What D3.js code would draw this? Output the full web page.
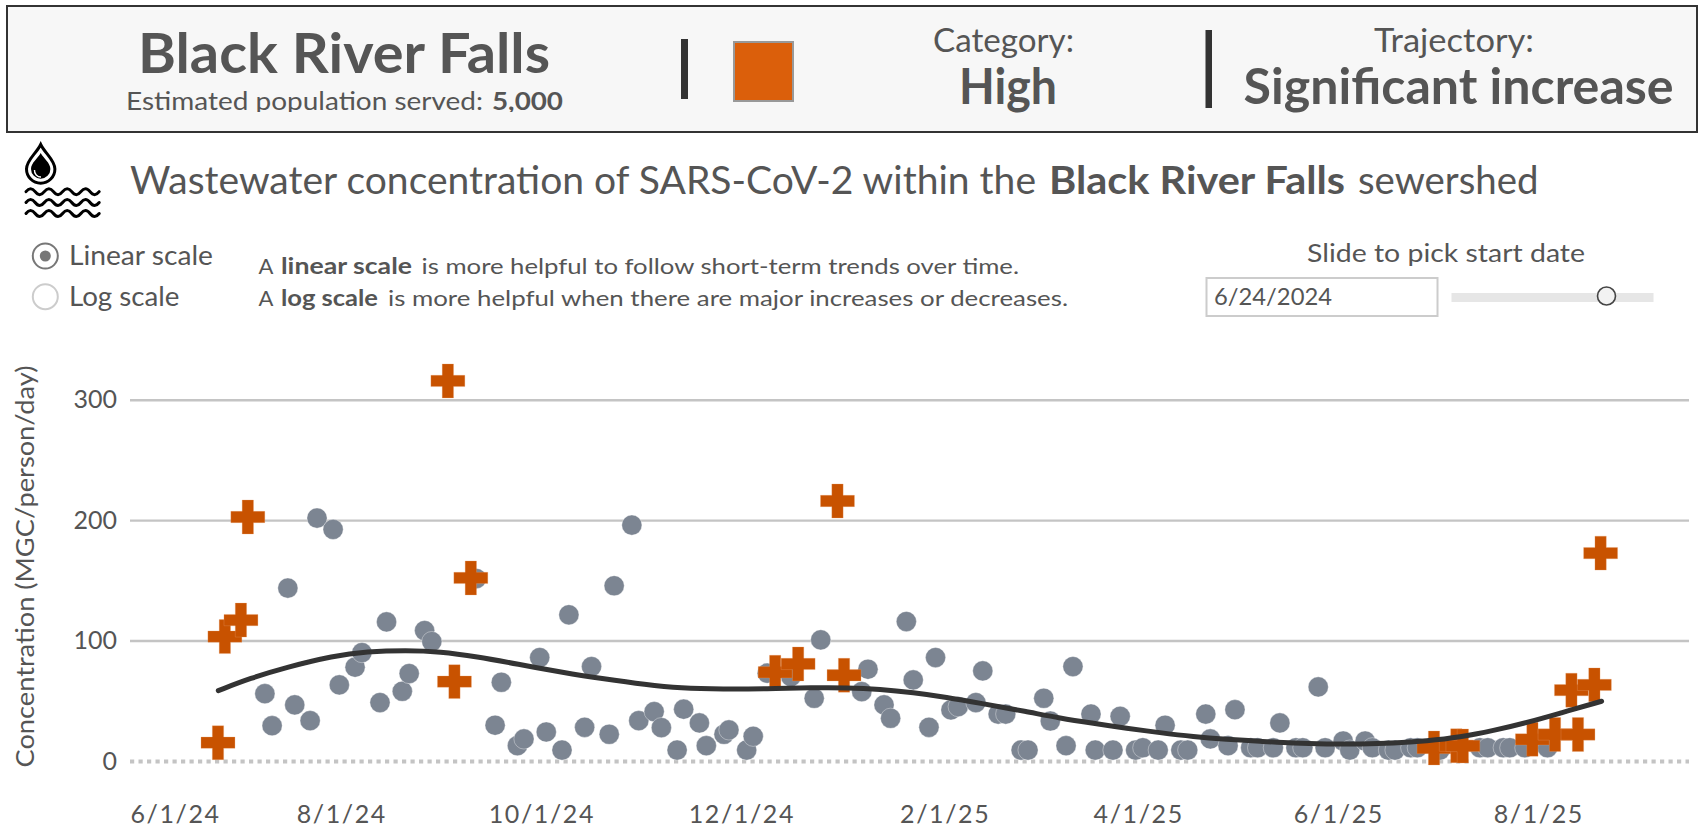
<!DOCTYPE html>
<html><head><meta charset="utf-8"><title>Wastewater chart</title>
<style>html,body{margin:0;padding:0;background:#fff;overflow:hidden}svg{display:block}text{font-family:Lato,"Noto Sans",sans-serif}</style>
<script src="https://cdn.jsdelivr.net/npm/d3@7"></script></head><body><div id="chart"></div>
<script>
const sewershed = "Black River Falls";
const startDate = "2024-06-01";
const xTickLabels = ["2024-06-01","2024-08-01","2024-10-01","2024-12-01","2025-02-01","2025-04-01","2025-06-01","2025-08-01"];
const yTicks = [0,100,200,300];
// days after 6/1/24 and concentration (MGC/person/day)
const normalDays = [37.7,39.9,44.7,46.8,51.5,53.6,58.5,60.4,65.2,67.3,72.8,74.8,79.6,81.7,86.4,88.6,102.2,107.9,109.8,114.7,116.7,121.5,123.5,128.3,130.4,135.2,137.3,142.7,144.2,149.6,151.7,156.4,158.6,163.4,165.4,170.2,172.3,177.7,179.2,184.6,186.6,190.9,198.1,205.2,207.2,219.7,221.6,226.5,228.5,233.3,235.4,240.2,242.2,246.9,249.1,254.5,256.6,261.3,263.6,268.3,270.4,275.2,277.2,282,284.1,289.6,290.9,296.3,298.5,303.2,305.4,310.1,312.2,317,319.1,324.6,326,331.4,333.5,338.3,340.4,345.2,347.2,352.1,354.2,358.9,361,366.5,368.5,373.2,375.4,380.3,382.3,387.1,389.1,396,408.2,410.6,415.3,417.3,421.9,428.8];
const normalValues = [55.9,29.3,143.6,46.6,33.5,201.7,192.3,63.2,77.9,90,48.5,115.5,57.9,72.6,108.3,99.2,151.5,29.7,65.4,12.7,18.3,85.9,24.1,9.1,121.4,28,78.4,22.2,145.5,195.9,33.5,41,27.7,9.1,43,31.6,12.7,22.2,25.8,9.1,20.5,72.9,70,52.1,100.6,57.6,76.2,46.6,35.5,115.8,67.3,28,85.9,42.4,45.1,48.5,74.8,39,39,9.1,9.1,52.1,33.2,12.7,78.4,39,9.1,9.1,37.1,9.1,11,9.1,29.7,9.1,9.1,39,18.3,12.7,42.6,11,11,11,31.6,11,11,61.5,11,16.6,9.1,16.6,11,9.1,9.1,11,11,9.1,11,11,11,11,11,11];
const flaggedDays = [23.4,25.5,30.4,32.5,93.5,95.5,100.5,193.3,200.3,212.3,214.3,394.2,401,403,424.2,431.1,436.1,438.1,443.1,445];
const flaggedValues = [15.2,103.3,117,202.6,315.6,65.9,152,73.7,80.6,215.9,71.2,10.8,12.7,12.5,18,22,58.8,22,63.2,172.6];
const trendDays = [23.5,33.2,44.4,58.6,68.7,80.9,91.1,102.3,114.5,129.7,139.9,154.1,164.3,177.5,190.7,204.8,215.1,225.3,235.4,245.6,255.8,270,280.2,290.3,300.5,310.6,320.8,331,341.1,351.3,361.5,371.6,381.8,392,402.1,412.3,422.5,432.6,445.3];
const trendValues = [58.4,68.7,77.9,87.3,90.9,92,90.9,86.7,80.6,72.9,68.7,63.2,60.4,59.6,59.9,60.9,60.9,59.6,56.8,52.9,48,41,35.5,31.3,27.2,23.5,20.2,18,16.4,14.7,14.1,14.1,14.7,16.6,19.7,25.2,31.8,39.7,49.6];

const W=1706,H=837, TXT="#555555";
const svg=d3.select("#chart").append("svg").attr("width",W).attr("height",H);
const origin=new Date(startDate+"T00:00:00Z");
const dateOf=d=>new Date(+origin+d*864e5);
const parse=s=>new Date(s+"T00:00:00Z");
const x=d3.scaleUtc().domain([parse("2024-06-01"),parse("2025-08-01")]).range([141.25,1538.3]);
const y=d3.scaleLinear().domain([0,300]).range([761,399.7]);
const plotL=130, plotR=1689;

function label(s,px,py,size,opt={}){
  const t=svg.append("text").attr("x",px).attr("y",py).attr("font-size",size).attr("fill",opt.fill||TXT)
    .attr("font-weight",opt.bold?700:400).text(s);
  if(opt.len) t.attr("textLength",opt.len).attr("lengthAdjust","spacingAndGlyphs");
  return t;
}
// header
svg.append("rect").attr("x",7).attr("y",6).attr("width",1690).attr("height",126).attr("fill","#f7f7f7").attr("stroke","#333").attr("stroke-width",2);
svg.append("clipPath").attr("id","hdrClip").attr("clipPathUnits","userSpaceOnUse").append("rect").attr("x",100).attr("y",80).attr("width",500).attr("height",32);
const popG=svg.append("g").attr("clip-path","url(#hdrClip)");
label(sewershed,138,72.5,56,{bold:1,len:412});
popG.node().appendChild(label("Estimated population served:",126,110,25,{len:357}).node());
popG.node().appendChild(label("5,000",492,110,25,{bold:1,len:71}).node());
svg.append("rect").attr("x",681).attr("y",39).attr("width",7).attr("height",60).attr("fill","#333");
svg.append("rect").attr("x",734).attr("y",42).attr("width",59).attr("height",59).attr("fill","#DB5F0B").attr("stroke","#999").attr("stroke-width",2);
label("Category:",933,52,33,{len:141});
label("High",959,104,49,{bold:1,len:98});
svg.append("rect").attr("x",1205.5).attr("y",30).attr("width",6.5).attr("height",78).attr("fill","#333");
label("Trajectory:",1374,52,33,{len:160});
label("Significant increase",1243.6,104,49,{bold:1,len:430});

// icon
const icon=svg.append("g");
icon.append("path").attr("d","M40.7 144.5 C36 154 26.5 160 26.5 169 A14.2 14.2 0 0 0 54.9 169 C54.9 160 45.4 154 40.7 144.5Z").attr("fill","#fff").attr("stroke","#000").attr("stroke-width",3);
icon.append("path").attr("d","M40.7 153 C38 158 31 163 31 169 A9.7 9.7 0 0 0 50.4 169 C50.4 163 43.4 158 40.7 153Z").attr("fill","#000");
icon.append("path").attr("d","M34.5 170 A6.5 6.5 0 0 0 41 177").attr("fill","none").attr("stroke","#fff").attr("stroke-width",1.4);
[191.7,202.5,213.5].forEach(wy=>{
  let d=`M26 ${wy}`;
  for(let i=0;i<4;i++){const a=26+i*18.3;d+=` Q${a+4.6} ${wy-6} ${a+9.15} ${wy} T${a+18.3} ${wy}`;}
  icon.append("path").attr("d",d).attr("fill","none").attr("stroke","#000").attr("stroke-width",3).attr("stroke-linecap","round");
});
label("Wastewater concentration of SARS-CoV-2 within the",130,194,39,{len:906});
label(sewershed,1049,194,39,{bold:1,len:296});
label("sewershed",1358,194,39,{len:180.5});

// controls
svg.append("circle").attr("cx",45.3).attr("cy",256).attr("r",12.5).attr("fill","#fff").attr("stroke","#777").attr("stroke-width",2);
svg.append("circle").attr("cx",45.3).attr("cy",256).attr("r",5.5).attr("fill","#777");
svg.append("circle").attr("cx",45.3).attr("cy",296.7).attr("r",12.5).attr("fill","#fff").attr("stroke","#ccc").attr("stroke-width",2);
label("Linear scale",69,265,26,{len:144});
label("Log scale",69,305.7,26,{len:110.5});
label("A",258.4,274,22);
label("linear scale",281,274,22,{bold:1,len:131});
label("is more helpful to follow short-term trends over time.",421.6,274,22,{len:597.4});
label("A",258.4,306,22);
label("log scale",281,306,22,{bold:1,len:97});
label("is more helpful when there are major increases or decreases.",388,306,22,{len:680});
label("Slide to pick start date",1307,261.7,25,{len:278});
svg.append("rect").attr("x",1206.5).attr("y",278).attr("width",231).attr("height",38).attr("fill","#fff").attr("stroke","#ccc").attr("stroke-width",2);
label("6/24/2024",1214,305,24,{len:118});
svg.append("rect").attr("x",1451.5).attr("y",293).attr("width",202).attr("height",9).attr("fill","#e6e6e6");
svg.append("circle").attr("cx",1606.5).attr("cy",296).attr("r",9).attr("fill","#f2f2f2").attr("stroke","#444").attr("stroke-width",1.6);

// axes
const yAxis=d3.axisLeft(y).tickValues(yTicks).tickSize(-(plotR-plotL)).tickPadding(13);
const gy=svg.append("g").attr("transform",`translate(${plotL},0)`).call(yAxis);
gy.select(".domain").remove();
gy.selectAll("line").attr("stroke","#c4c4c4").attr("stroke-width",2.4);
gy.selectAll("line").filter(d=>d===0).attr("stroke-width",4).attr("stroke-dasharray","4.2 4.3");
gy.selectAll("text").attr("font-size",25).attr("fill",TXT);
svg.append("text").attr("transform","translate(33.5,566.5) rotate(-90)").attr("text-anchor","middle").attr("font-size",25).attr("fill",TXT)
  .attr("textLength",402).attr("lengthAdjust","spacingAndGlyphs").text("Concentration (MGC/person/day)");

const fmt=d=>`${d.getUTCMonth()+1}/${d.getUTCDate()}/${String(d.getUTCFullYear()).slice(2)}`;
const xAxis=d3.axisBottom(x).tickValues(xTickLabels.map(parse)).tickFormat(fmt).tickSize(0).tickPadding(0);
const gx=svg.append("g").call(xAxis);
gx.select(".domain").remove();
gx.selectAll("text").attr("y",823.3).attr("dy",null).attr("font-size",25).attr("fill",TXT).attr("letter-spacing",1.6);
gx.selectAll("text").filter((d,i)=>i===0).attr("text-anchor","start").attr("transform",`translate(${plotL-x(parse(xTickLabels[0]))},0)`);

// marks
const normal=d3.zip(normalDays,normalValues), flagged=d3.zip(flaggedDays,flaggedValues), trend=d3.zip(trendDays,trendValues);
svg.append("g").selectAll("circle").data(normal).join("circle")
  .attr("cx",d=>x(dateOf(d[0]))).attr("cy",d=>y(d[1])).attr("r",10.1).attr("fill","#7c8592").attr("stroke","#ffffff").attr("stroke-opacity",.45).attr("stroke-width",.8);
const cross=d3.symbol().type(d3.symbolCross).size(640);
svg.append("g").selectAll("path").data(flagged).join("path").attr("d",cross)
  .attr("transform",d=>`translate(${x(dateOf(d[0]))},${y(d[1])})`).attr("fill","#C85200").attr("stroke","#e9a070").attr("stroke-width",.4).attr("stroke-opacity",.7);
const line=d3.line().x(d=>x(dateOf(d[0]))).y(d=>y(d[1])).curve(d3.curveBasis);
svg.append("path").datum(trend).attr("d",line).attr("fill","none").attr("stroke","#333").attr("stroke-width",5).attr("stroke-linecap","round");
</script></body></html>
